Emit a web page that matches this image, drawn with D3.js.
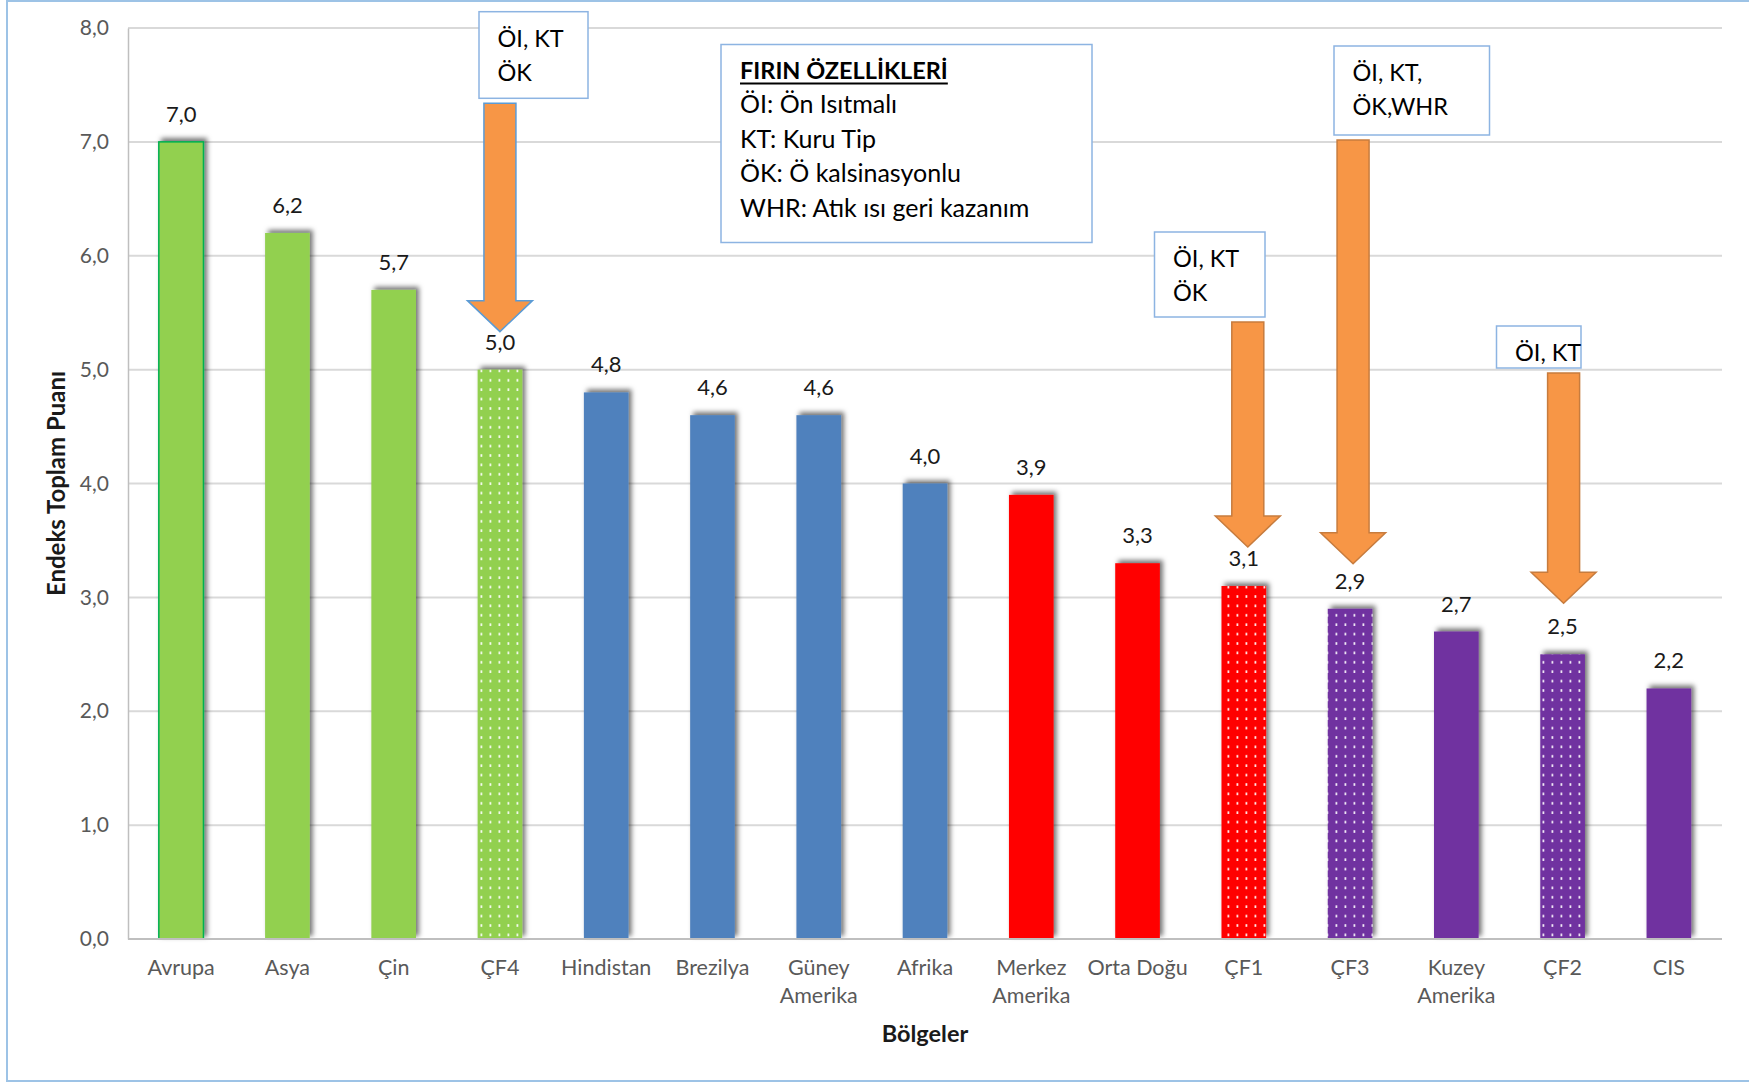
<!DOCTYPE html>
<html lang="tr">
<head>
<meta charset="utf-8">
<script src="https://cdn.jsdelivr.net/npm/d3@7"></script>
<style>
  html, body { margin: 0; padding: 0; background: #fff; }
  svg { display: block; font-family: Lato, "Open Sans", sans-serif; }
</style>
</head>
<body>
<svg id="chart" width="1749" height="1082"></svg>
<script>
// Regions (line breaks mark two-line tick labels)
const categories = [
  "Avrupa", "Asya", "Çin", "ÇF4", "Hindistan", "Brezilya", "Güney\nAmerika",
  "Afrika", "Merkez\nAmerika", "Orta Doğu", "ÇF1", "ÇF3", "Kuzey\nAmerika", "ÇF2", "CIS"
];
// Total index score per region
const scores = [7.0, 6.2, 5.7, 5.0, 4.8, 4.6, 4.6, 4.0, 3.9, 3.3, 3.1, 2.9, 2.7, 2.5, 2.2];
// Score tier of each region (drives the bar colour)
const tiers = [1, 1, 1, 1, 2, 2, 2, 2, 3, 3, 3, 4, 4, 4, 4];
// Y axis ticks
const yTicks = [0, 1, 2, 3, 4, 5, 6, 7, 8];
// Kiln features attached to the plants (ÇF)
const plantFeatures = {
  "ÇF4": ["ÖI, KT", "ÖK"],
  "ÇF1": ["ÖI, KT", "ÖK"],
  "ÇF3": ["ÖI, KT,", "ÖK,WHR"],
  "ÇF2": ["ÖI, KT"]
};
// Legend text
const legendTitle = "FIRIN ÖZELLİKLERİ";
const legendLines = ["ÖI: Ön Isıtmalı", "KT: Kuru Tip", "ÖK: Ö kalsinasyonlu", "WHR: Atık ısı geri kazanım"];

const svg = d3.select("#chart");
const plotLeft = 128, plotRight = 1722, plotTop = 28, plotBottom = 939;

const x = d3.scaleBand().domain(categories).range([plotLeft, plotRight]).paddingInner(0.58).paddingOuter(0.29);
const y = d3.scaleLinear().domain([0, 8]).range([plotBottom, plotTop]);
const tierColor = d3.scaleOrdinal().domain([1, 2, 3, 4]).range(["#92D050", "#4F81BD", "#FF0000", "#7030A0"]);
const fmt = v => d3.format(".1f")(v).replace(".", ",");
const isPlant = c => c.startsWith("ÇF");

// outer frame
svg.append("rect").attr("x", 7).attr("y", 1).attr("width", 1800).attr("height", 1080)
  .attr("fill", "none").attr("stroke", "#9DC3E6").attr("stroke-width", 2);

const defs = svg.append("defs");
const shadow = defs.append("filter").attr("id", "barShadow")
  .attr("x", "-30%").attr("y", "-10%").attr("width", "160%").attr("height", "120%");
shadow.append("feDropShadow").attr("dx", 3).attr("dy", -3).attr("stdDeviation", 2.8)
  .attr("flood-color", "#000").attr("flood-opacity", 0.55);

// dotted fills for the plant bars
[1, 2, 3, 4].forEach(t => {
  const p = defs.append("pattern").attr("id", "dots" + t).attr("patternUnits", "userSpaceOnUse")
    .attr("width", 9).attr("height", 9.4);
  p.append("rect").attr("width", 9).attr("height", 9.4).attr("fill", tierColor(t));
  p.append("rect").attr("x", 3.5).attr("y", 3).attr("width", 1.8).attr("height", 2.6)
    .attr("fill", "#fff").attr("opacity", 0.9);
});

// grid
svg.append("g").selectAll("line").data(yTicks.filter(d => d > 0)).join("line")
  .attr("x1", plotLeft).attr("x2", plotRight).attr("y1", d => y(d)).attr("y2", d => y(d))
  .attr("stroke", "#D9D9D9").attr("stroke-width", 2);

// y axis
const yAxis = svg.append("g").attr("transform", `translate(${plotLeft},0)`)
  .call(d3.axisLeft(y).tickValues(yTicks).tickFormat(fmt).tickSize(0).tickPadding(19));
yAxis.select(".domain").attr("stroke", "#BFBFBF").attr("stroke-width", 1.5);
yAxis.selectAll("text").attr("font-size", 21).attr("fill", "#595959").attr("font-family", "Lato, sans-serif");

// bars
svg.append("g").selectAll("rect").data(categories).join("rect")
  .attr("x", c => x(c)).attr("width", x.bandwidth())
  .attr("y", (c, i) => y(scores[i])).attr("height", (c, i) => y(0) - y(scores[i]))
  .attr("fill", (c, i) => isPlant(c) ? `url(#dots${tiers[i]})` : tierColor(tiers[i]))
  .attr("stroke", (c, i) => i === 0 ? "#00B050" : "none").attr("stroke-width", 1.5)
  .attr("filter", "url(#barShadow)");

// baseline
svg.append("line").attr("x1", plotLeft).attr("x2", plotRight).attr("y1", plotBottom).attr("y2", plotBottom)
  .attr("stroke", "#BFBFBF").attr("stroke-width", 2);

// value labels
svg.append("g").selectAll("text").data(categories).join("text")
  .attr("x", c => x(c) + x.bandwidth() / 2).attr("y", (c, i) => y(scores[i]) - 20)
  .attr("text-anchor", "middle").attr("font-size", 22).attr("fill", "#1a1a1a")
  .text((c, i) => fmt(scores[i]));

// x tick labels
const xl = svg.append("g").selectAll("text").data(categories).join("text")
  .attr("x", c => x(c) + x.bandwidth() / 2).attr("y", 975)
  .attr("text-anchor", "middle").attr("font-size", 21.5).attr("fill", "#595959");
xl.each(function (c) {
  c.split("\n").forEach((line, k) => {
    d3.select(this).append("tspan").attr("x", x(c) + x.bandwidth() / 2).attr("dy", k ? 28 : 0).text(line);
  });
});

// axis titles
svg.append("text").attr("x", 925).attr("y", 1042).attr("text-anchor", "middle")
  .attr("font-size", 23.5).attr("font-weight", "bold").attr("fill", "#1a1a1a").text("Bölgeler");
svg.append("text").attr("transform", `translate(55,${(plotTop + plotBottom) / 2}) rotate(-90)`)
  .attr("text-anchor", "middle").attr("dominant-baseline", "central")
  .attr("font-size", 24).attr("font-weight", "bold").attr("fill", "#1a1a1a").text("Endeks Toplam Puanı");

// legend box
const lg = svg.append("g");
lg.append("rect").attr("x", 721).attr("y", 44.5).attr("width", 371).attr("height", 198)
  .attr("fill", "#fff").attr("stroke", "#8DB4E2").attr("stroke-width", 1.5);
const lt = lg.append("text").attr("x", 740).attr("y", 79).attr("font-size", 23.5)
  .attr("font-weight", "bold").attr("fill", "#000").text(legendTitle);
const tw = lt.node().getComputedTextLength();
lg.append("line").attr("x1", 740).attr("x2", 740 + tw).attr("y1", 83.5).attr("y2", 83.5)
  .attr("stroke", "#000").attr("stroke-width", 1.8);
lg.selectAll("text.item").data(legendLines).join("text").attr("class", "item")
  .attr("x", 740).attr("y", (d, i) => 113 + i * 34.7).attr("font-size", 25).attr("fill", "#000").text(d => d);

// feature callouts: box + arrow pointing at the plant bar
const callouts = [
  { cat: "ÇF4", box: [479, 11.7, 109, 86.6], shift: 0, gap: 38, outline: "#5B9BD5" },
  { cat: "ÇF1", box: [1154.5, 232, 110.5, 85], shift: 4, gap: 39, outline: "#C77C3E" },
  { cat: "ÇF3", box: [1334, 46, 155.5, 89], shift: 3, gap: 45, outline: "#C77C3E" },
  { cat: "ÇF2", box: [1496.5, 326, 84.5, 42], shift: 1, gap: 51, outline: "#C77C3E" }
];
const cg = svg.append("g");
callouts.forEach(co => {
  const i = categories.indexOf(co.cat);
  const cx = x(co.cat) + x.bandwidth() / 2 + co.shift;
  const tip = y(scores[i]) - co.gap;
  const shaftTop = co.box[1] + co.box[3] + 5;
  const headBase = tip - 31, sw = 16, hw = 32.5;
  const path = d3.path();
  path.moveTo(cx - sw, shaftTop); path.lineTo(cx + sw, shaftTop); path.lineTo(cx + sw, headBase);
  path.lineTo(cx + hw, headBase); path.lineTo(cx, tip); path.lineTo(cx - hw, headBase);
  path.lineTo(cx - sw, headBase); path.closePath();
  cg.append("path").attr("d", path.toString()).attr("fill", "#F79646")
    .attr("stroke", co.outline).attr("stroke-width", 1.5).attr("stroke-linejoin", "miter");

  cg.append("rect").attr("x", co.box[0]).attr("y", co.box[1]).attr("width", co.box[2]).attr("height", co.box[3])
    .attr("fill", "#fff").attr("stroke", "#8DB4E2").attr("stroke-width", 1.5);
  plantFeatures[co.cat].forEach((line, k) => {
    cg.append("text").attr("x", co.box[0] + 18.5).attr("y", co.box[1] + 35 + k * 34)
      .attr("font-size", 23.5).attr("fill", "#000").text(line);
  });
});
</script>
</body>
</html>
